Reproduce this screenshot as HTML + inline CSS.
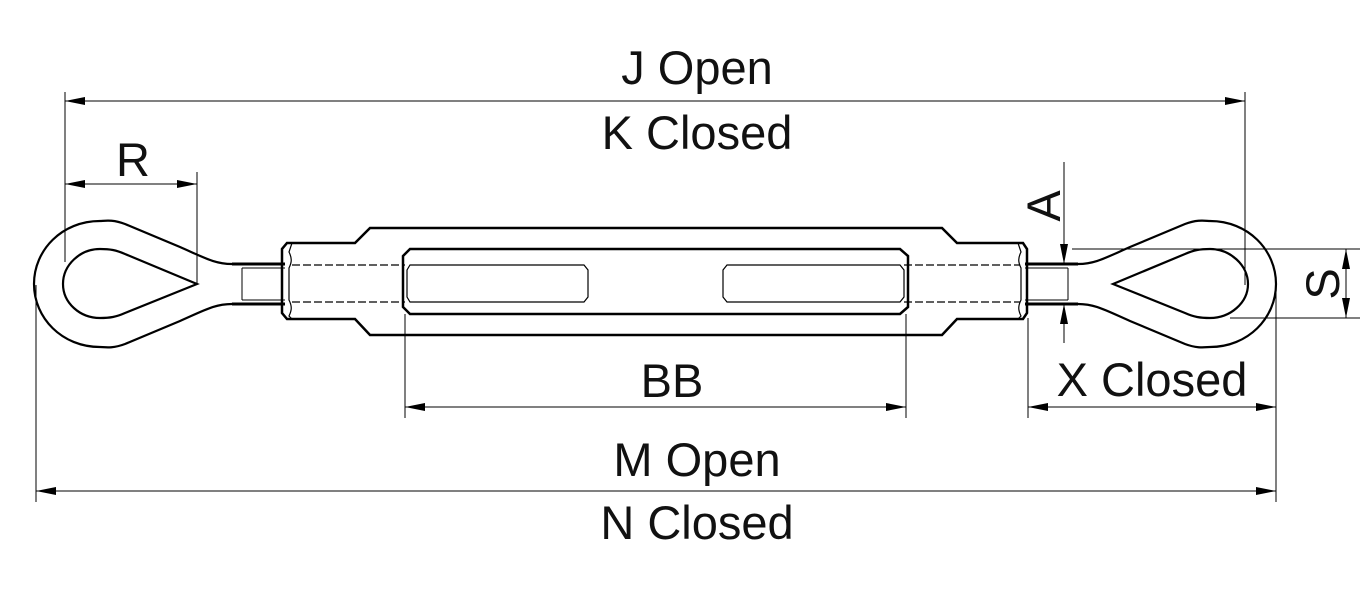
<!DOCTYPE html>
<html><head><meta charset="utf-8"><style>
html,body{margin:0;padding:0;background:#fff}
svg{display:block}
text{font-family:"Liberation Sans",sans-serif;fill:#111}
</style></head><body>
<svg width="1370" height="589" viewBox="0 0 1370 589" xmlns="http://www.w3.org/2000/svg">
<defs>
<marker id="ar" viewBox="0 0 20 8" refX="20" refY="4" markerWidth="20" markerHeight="8" markerUnits="userSpaceOnUse" orient="auto-start-reverse"><path d="M0,0 L20,4 L0,8 Z" fill="#000"/></marker>
</defs>
<g fill="none" stroke="#000">
<g stroke-width="1">
<line x1="65" y1="92" x2="65" y2="262"/>
<line x1="1245" y1="92" x2="1245" y2="285"/>
<line x1="197" y1="172" x2="197" y2="284"/>
<line x1="36" y1="285" x2="36" y2="502"/>
<line x1="1276" y1="290" x2="1276" y2="502"/>
<line x1="405" y1="314" x2="405" y2="418"/>
<line x1="906" y1="314" x2="906" y2="418"/>
<line x1="1028" y1="318" x2="1028" y2="418"/>
<line x1="1072" y1="249" x2="1360" y2="249"/>
<line x1="1230" y1="318" x2="1360" y2="318"/>
<line x1="65" y1="101" x2="1245" y2="101" marker-start="url(#ar)" marker-end="url(#ar)"/>
<line x1="65" y1="184" x2="197" y2="184" marker-start="url(#ar)" marker-end="url(#ar)"/>
<line x1="36" y1="491" x2="1276" y2="491" marker-start="url(#ar)" marker-end="url(#ar)"/>
<line x1="405" y1="407" x2="906" y2="407" marker-start="url(#ar)" marker-end="url(#ar)"/>
<line x1="1028" y1="407" x2="1276" y2="407" marker-start="url(#ar)" marker-end="url(#ar)"/>
<line x1="1346" y1="249" x2="1346" y2="318" marker-start="url(#ar)" marker-end="url(#ar)"/>
<line x1="1064" y1="162" x2="1064" y2="264" marker-end="url(#ar)"/>
<line x1="1064" y1="343" x2="1064" y2="304" marker-end="url(#ar)"/>
</g>
<g stroke-width="2.2">
<path d="M232,264 C215,264 205,258 180,247 L125,224 C112,219 104,221 100,221 C62,221 34,250 34,284 C34,318 62,347 100,347 C104,347 112,349 125,344 L180,321 C205,310 215,304 232,304"/>
<path d="M197,284 L125,254 C116,250 110,249 100,249 C80,249 63,265 63,284 C63,303 80,318 100,318 C110,318 116,317 125,313 Z"/>
<path d="M1078,264 C1095,264 1105,258 1130,247 L1185,224 C1198,219 1206,221 1210,221 C1248,221 1276,250 1276,284 C1276,318 1248,347 1210,347 C1206,347 1198,349 1185,344 L1130,321 C1105,310 1095,304 1078,304"/>
<path d="M1113,284 L1185,254 C1194,250 1200,249 1210,249 C1230,249 1248,265 1248,284 C1248,303 1230,318 1210,318 C1200,318 1194,317 1185,313 Z"/>
<line x1="232" y1="264" x2="285" y2="264" stroke-width="3"/>
<line x1="232" y1="304" x2="285" y2="304" stroke-width="3"/>
<line x1="1025" y1="264" x2="1078" y2="264" stroke-width="3"/>
<line x1="1025" y1="304" x2="1078" y2="304" stroke-width="3"/>
</g>
<g stroke-width="1">
<line x1="242" y1="268" x2="242" y2="300"/>
<line x1="242" y1="268" x2="285" y2="268"/>
<line x1="242" y1="300" x2="285" y2="300"/>
<line x1="1068" y1="268" x2="1068" y2="300"/>
<line x1="1025" y1="268" x2="1068" y2="268"/>
<line x1="1025" y1="300" x2="1068" y2="300"/>
</g>
<path stroke-width="2.5" d="M287,243 L355,243 L370,228 L942,228 L957,243 L1023,243 L1027,249 L1027,313 L1023,319 L957,319 L942,335 L370,335 L355,319 L287,319 L282,313 L282,249 Z"/>
<path stroke-width="1.2" d="M292,243 L289,252 C292,258 292,262 289,268 L289,300 C292,306 292,310 289,316 L292,319"/>
<path stroke-width="1.2" d="M1018,243 L1021,252 C1018,258 1018,262 1021,268 L1021,300 C1018,306 1018,310 1021,316 L1018,319"/>
<path stroke-width="2.5" d="M410,249 L900,249 L908,256 L908,307 L900,314 L410,314 L403,307 L403,256 Z"/>
<g stroke-width="1.2">
<path d="M410,265 L584,265 L588,270 L588,297 L584,302 L410,302 L407,297 L407,270 Z"/>
<path d="M727,265 L900,265 L904,270 L904,297 L900,302 L727,302 L723,297 L723,270 Z"/>
<path stroke-dasharray="8,3" d="M292,265 L405,265 M292,302 L405,302 M904,265 L1020,265 M904,302 L1020,302"/>
</g>
</g>
<g font-size="47">
<text x="697" y="84" text-anchor="middle">J Open</text>
<text x="697" y="149" text-anchor="middle">K Closed</text>
<text x="133" y="176" text-anchor="middle">R</text>
<text x="672" y="397" text-anchor="middle">BB</text>
<text x="1152" y="396" text-anchor="middle">X Closed</text>
<text x="697" y="476" text-anchor="middle">M Open</text>
<text x="697" y="539" text-anchor="middle">N Closed</text>
<text transform="translate(1060,206) rotate(-90)" text-anchor="middle">A</text>
<text transform="translate(1339,284) rotate(-90)" text-anchor="middle">S</text>
</g>
</svg>
</body></html>
